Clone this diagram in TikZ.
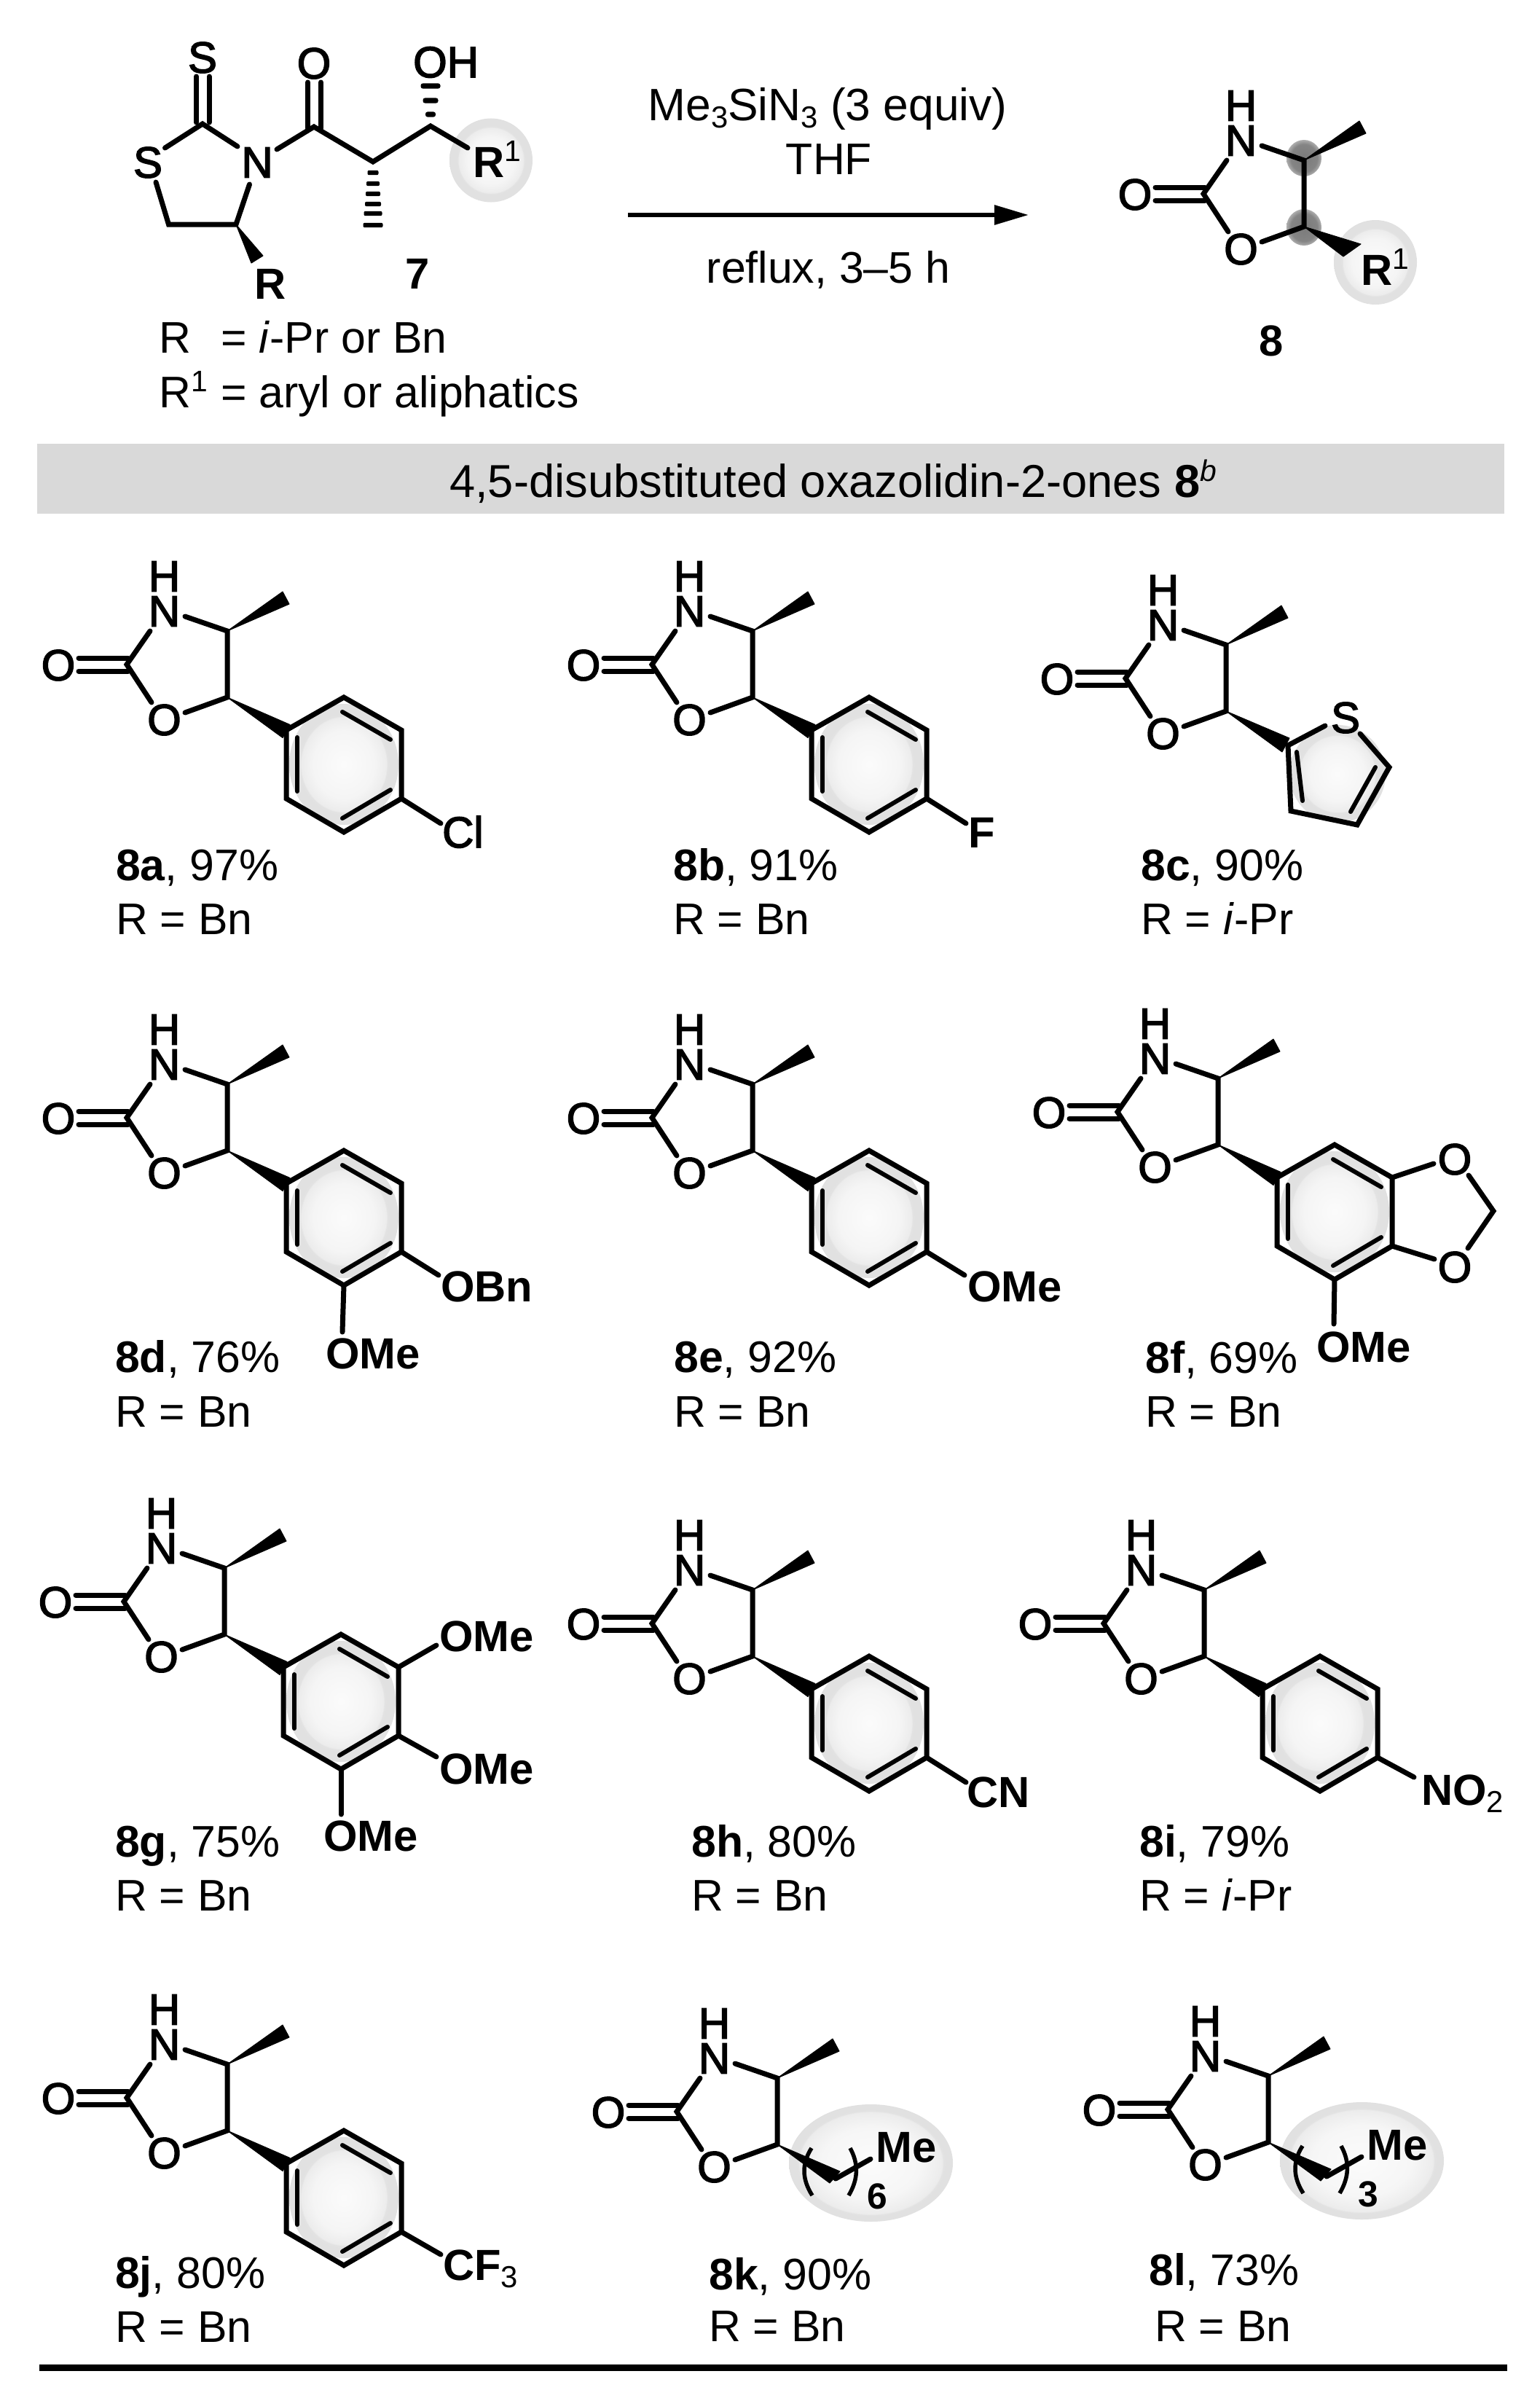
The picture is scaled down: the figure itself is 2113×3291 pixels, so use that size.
\documentclass[tikz,border=0pt]{standalone}
\usepackage{fontspec}
\setmainfont{Liberation Sans}
\usetikzlibrary{arrows.meta,shapes.geometric}
\pgfdeclareradialshading{halo}{\pgfpointorigin}{gray(0bp)=(.985);gray(14bp)=(.96);gray(19.5bp)=(.925);gray(20bp)=(.885);gray(25bp)=(.88);gray(50bp)=(.88)}
\pgfdeclareradialshading{halowide}{\pgfpointorigin}{gray(0bp)=(.985);gray(15bp)=(.965);gray(21.7bp)=(.925);gray(22.2bp)=(.885);gray(25bp)=(.88);gray(50bp)=(.88)}
\pgfdeclareradialshading{darkdot}{\pgfpointorigin}{gray(0bp)=(.48);gray(19bp)=(.52);gray(25bp)=(.68);gray(50bp)=(.68)}
\newcommand{\fs}{\fontsize{61}{72}\selectfont}
\newcommand{\emboOn}{\special{pdf:code q 2 Tr 1.6 w}}
\newcommand{\emboOff}{\special{pdf:code Q}}
\tikzset{
  x=1bp,y=-1bp,
  bond/.style={line width=7bp,line cap=round,line join=miter,draw=black},
  wedgeb/.style={fill=black,draw=black,line width=1bp,line join=round},
  txt/.style={anchor=base west,inner sep=0pt,font=\fs},
  ctxt/.style={anchor=base,inner sep=0pt,font=\fs},
  atom/.style={anchor=center,inner sep=0pt,font=\fontsize{60}{70}\selectfont,execute at begin node=\emboOn,execute at end node=\emboOff},
  atomw/.style={anchor=base west,inner sep=0pt,font=\fontsize{60}{70}\selectfont,execute at begin node=\emboOn,execute at end node=\emboOff},
  heavy/.style={anchor=base west,inner sep=0pt,font=\fontsize{60}{70}\selectfont\bfseries},
  halonode/.style={ellipse,inner sep=0pt,shading=halo,draw=none},
  halowidenode/.style={ellipse,inner sep=0pt,shading=halowide,draw=none},
  dotnode/.style={ellipse,inner sep=0pt,shading=darkdot,draw=none,minimum width=48bp,minimum height=50bp},
}
\newcommand{\subs}[1]{\raisebox{-10bp}{\fontsize{42}{42}\selectfont #1}}
\newcommand{\sups}[1]{\raisebox{22bp}{\fontsize{41}{41}\selectfont\mdseries #1}}
% oxazolidinone scaffold: suffix, dx, dy
\newcommand{\oxa}[3]{%
\begin{scope}[shift={(#2,#3)}]
  \coordinate (c4#1) at (312,866);
  \coordinate (c5#1) at (312,957);
  \coordinate (c2#1) at (174,912);
  \node[atom] (n#1) at (225.5,839) {N};
  \node[atom] (h#1) at (225.5,791) {H};
  \node[atom] (o#1) at (225.5,988) {O};
  \node[atom] (oc#1) at (80,913) {O};
  \coordinate (nc2#1) at (206,866);
  \coordinate (nc4#1) at (254,846);
  \coordinate (oc5#1) at (254,978);
  \coordinate (oc2#1) at (208,964);
  \coordinate (db1#1) at (108,903);
  \coordinate (db2#1) at (108,921);
  \coordinate (db3#1) at (176,903);
  \coordinate (db4#1) at (176,921);
  \coordinate (m1#1) at (388,812);
  \coordinate (m2#1) at (397,829);
  \draw[bond] (nc2#1) -- (c2#1) -- (oc2#1);
  \draw[bond] (nc4#1) -- (c4#1) -- (c5#1) -- (oc5#1);
  \draw[bond] (db1#1) -- (db3#1);
  \draw[bond] (db2#1) -- (db4#1);
  \path[wedgeb] (c4#1) -- (m1#1) -- (m2#1) -- cycle;
\end{scope}}
% halo and benzene ring
\newcommand{\aryl}[3]{%
\begin{scope}[shift={(#2,#3)}]
  \node[halonode,minimum width=150bp,minimum height=166bp] (hl#1) at (472,1049) {};
  \coordinate (a1#1) at (393,1002);
  \coordinate (a2#1) at (472,957);
  \coordinate (a3#1) at (551,1002);
  \coordinate (a4#1) at (551,1096);
  \coordinate (a5#1) at (472,1142);
  \coordinate (a6#1) at (393,1096);
  \coordinate (i1#1) at (408,1012);
  \coordinate (i2#1) at (408,1086);
  \coordinate (i3#1) at (470,977);
  \coordinate (i4#1) at (536,1015);
  \coordinate (i5#1) at (536,1084);
  \coordinate (i6#1) at (470,1123);
  \coordinate (w1#1) at (398,994.5);
  \coordinate (w2#1) at (388,1012.5);
  \path[wedgeb] (c5#1) -- (w1#1) -- (w2#1) -- cycle;
  \draw[bond,line cap=butt] (a1#1) -- (a2#1) -- (a3#1) -- (a4#1) -- (a5#1) -- (a6#1) -- cycle;
  \draw[bond,line width=6bp] (i1#1) -- (i2#1);
  \draw[bond,line width=6bp] (i3#1) -- (i4#1);
  \draw[bond,line width=6bp] (i5#1) -- (i6#1);
\end{scope}}
% aliphatic chain with bracket and halo
\newcommand{\chain}[4]{%
\begin{scope}[shift={(#2,#3)}]
  \node[halowidenode,minimum width=225bp,minimum height=161bp] (hl#1) at (440.5,982.5) {};
  \coordinate (t1#1) at (384,1010);
  \coordinate (t2#1) at (398,994);
  \coordinate (j#1) at (392,1004);
  \coordinate (e#1) at (440,977);
  \path[wedgeb] (c5#1) -- (t2#1) -- (t1#1) -- cycle;
  \draw[bond] (j#1) -- (e#1);
  \coordinate (bl1#1) at (359,962);
  \coordinate (bl2#1) at (360,1027);
  \coordinate (br1#1) at (412,962);
  \coordinate (br2#1) at (410,1027);
  \draw[line width=5.5bp] (bl1#1) .. controls (345,984) and (346,1005) .. (bl2#1);
  \draw[line width=5.5bp] (br1#1) .. controls (424,984) and (423,1005) .. (br2#1);
  \node[heavy] (me#1) at (447,981) {Me};
  \node[inner sep=0pt,font=\fontsize{50}{50}\selectfont\bfseries] (ct#1) at (449,1028) {#4};
\end{scope}}
% caption of a compound: name, x, y1, y2, bold part, percent, R text
\newcommand{\yield}[7]{%
  \node[txt] (yl#1) at (#2,#3) {\textbf{#5}, #6};
  \node[txt] (rl#1) at (#2,#4) {R = #7};}
\newcommand{\ipr}{\textit{i}-Pr}
\begin{document}
\begin{tikzpicture}
\useasboundingbox (0,0) rectangle (2113,3291);
\fill[white] (0,0) rectangle (2113,3291);

% ---- reaction scheme, substrate 7
\node[halonode,minimum width=114bp,minimum height=115bp] (hl7) at (674,220) {};
\node[atom] (s7) at (278,79) {S};
\node[atom] (o7) at (431,87) {O};
\node[atom] (rs7) at (203,223) {S};
\node[atom] (rn7) at (353,223) {N};
\node[atomw] (oh7) at (567,106) {OH};
\coordinate (cs7) at (278,170);
\coordinate (ch2) at (231.5,308);
\coordinate (c47) at (324,308);
\coordinate (cam) at (431,174);
\coordinate (cme) at (512,222);
\coordinate (coh) at (591,173);
\coordinate (sd1) at (269.5,105);
\coordinate (sd2) at (287,105);
\coordinate (sd3) at (269.5,168);
\coordinate (sd4) at (287,168);
\coordinate (od1) at (422.5,113);
\coordinate (od2) at (440.5,113);
\coordinate (od3) at (422.5,176);
\coordinate (od4) at (440.5,176);
\coordinate (csa) at (226.5,203);
\coordinate (csb) at (326,201);
\coordinate (sb) at (214,250);
\coordinate (nb) at (342.5,253);
\coordinate (nc) at (380,205);
\coordinate (rr) at (642,203);
\coordinate (tp1) at (345,361);
\coordinate (tp2) at (361,351);
\draw[bond] (sd1) -- (sd3);
\draw[bond] (sd2) -- (sd4);
\draw[bond] (od1) -- (od3);
\draw[bond] (od2) -- (od4);
\draw[bond] (csa) -- (cs7) -- (csb);
\draw[bond] (sb) -- (ch2) -- (c47) -- (nb);
\draw[bond] (nc) -- (cam) -- (cme) -- (coh) -- (rr);
\path[wedgeb] (c47) -- (tp1) -- (tp2) -- cycle;
\foreach \yy/\ww in {237/15,252/18,266/20,280/22,293/25,309/27}
  \fill[rounded corners=2bp] (512-\ww/2,\yy-3.2) rectangle (512+\ww/2,\yy+3.2);
\foreach \yy/\ww in {157/14,138/21,118/27}
  \fill[rounded corners=3bp] (591-\ww/2,\yy-3.6) rectangle (591+\ww/2,\yy+3.6);
\node[heavy] (r7) at (649,243) {R\sups{1}};
\node[heavy] (rb7) at (349,410) {R};
\node[txt,font=\fontsize{60}{70}\selectfont\bfseries] (lab7) at (556,396) {7};
\node[txt] (t1) at (218,484) {\makebox[85bp][l]{R}= \textit{i}-Pr or Bn};
\node[txt] (t2) at (218,559) {\makebox[85bp][l]{R\sups{1}}= aryl or aliphatics};

% ---- conditions
\node[ctxt,font=\fontsize{62.5}{72}\selectfont] (c1) at (1136,165) {Me\subs{3}SiN\subs{3} (3 equiv)};
\node[ctxt] (c2) at (1138,239) {THF};
\node[ctxt] (c3) at (1137,388) {reflux, 3--5 h};
\coordinate (ar1) at (862,295);
\coordinate (ar2) at (1412,295);
\draw[line width=6bp,-{Triangle[length=47bp,width=26bp]}] (ar1) -- (ar2);

% ---- product 8
\node[halonode,minimum width=114bp,minimum height=116bp] (hl8) at (1888,360) {};
\node[dotnode] (d1) at (1790,217) {};
\node[dotnode] (d2) at (1790,312) {};
\oxa{p}{1478}{-646}
\coordinate (w8a) at (1868,335);
\coordinate (w8b) at (1844,352);
\path[wedgeb] (c5p) -- (w8a) -- (w8b) -- cycle;
\node[heavy] (r8) at (1868,391) {R\sups{1}};
\node[ctxt,font=\fontsize{60}{70}\selectfont\bfseries] (lab8) at (1745,488) {8};

% ---- band
\fill[black!15] (51,609) rectangle (2065,705);
\node[txt,font=\fontsize{63.5}{72}\selectfont] (band) at (617,682) {4,5-disubstituted oxazolidin-2-ones \textbf{8}\sups{\textit{b}}};

% ---- 8a
\oxa{a}{0}{0}\aryl{a}{0}{0}
\coordinate (ea) at (605,1130);
\draw[bond] (a4a) -- (ea);
\node[atomw] (cla) at (607,1163) {Cl};
\yield{a}{159}{1208}{1282}{8a}{97\%}{Bn}

% ---- 8b
\oxa{b}{721}{0}\aryl{b}{721}{0}
\coordinate (eb) at (1326,1130);
\draw[bond] (a4b) -- (eb);
\node[heavy] (fb) at (1329,1163) {F};
\yield{b}{924}{1208}{1282}{8b}{91\%}{Bn}

% ---- 8c thiophene
\node[halonode,minimum width=132bp,minimum height=134bp] (hlc) at (1836,1062) {};
\oxa{c}{1371}{19}
\node[atom] (sc) at (1847,985) {S};
\coordinate (t1c) at (1768,1023);
\coordinate (t2c) at (1772,1113);
\coordinate (t3c) at (1863,1132);
\coordinate (t4c) at (1907,1053);
\coordinate (sac) at (1819,996);
\coordinate (sbc) at (1867,1007);
\coordinate (wac) at (1770,1013);
\coordinate (wbc) at (1760,1032);
\coordinate (i1c) at (1780,1032);
\coordinate (i2c) at (1788,1099);
\coordinate (i3c) at (1888,1053);
\coordinate (i4c) at (1854,1114);
\path[wedgeb] (c5c) -- (wac) -- (wbc) -- cycle;
\draw[bond] (sac) -- (t1c) -- (t2c) -- (t3c) -- (t4c) -- (sbc);
\draw[bond,line width=6bp] (i1c) -- (i2c);
\draw[bond,line width=6bp] (i3c) -- (i4c);
\yield{c}{1566}{1208}{1282}{8c}{90\%}{\ipr}

% ---- 8d
\oxa{d}{0}{622}\aryl{d}{0}{622}
\coordinate (e1d) at (602,1750);
\coordinate (e2d) at (470,1828);
\draw[bond] (a4d) -- (e1d);
\draw[bond] (a5d) -- (e2d);
\node[heavy] (obd) at (605,1786) {OBn};
\node[heavy] (omd) at (447,1878) {OMe};
\yield{d}{158}{1883}{1958}{8d}{76\%}{Bn}

% ---- 8e
\oxa{e}{721}{622}\aryl{e}{721}{622}
\coordinate (ee) at (1324,1750);
\draw[bond] (a4e) -- (ee);
\node[heavy] (ome) at (1328,1786) {OMe};
\yield{e}{925}{1883}{1958}{8e}{92\%}{Bn}

% ---- 8f
\oxa{f}{1360}{614}\aryl{f}{1360}{614}
\node[atom] (o1f) at (1997,1591) {O};
\node[atom] (o2f) at (1997,1739) {O};
\coordinate (b1f) at (1968,1597);
\coordinate (b2f) at (1969,1728);
\coordinate (chf) at (2050,1662);
\coordinate (b3f) at (2016,1613);
\coordinate (b4f) at (2015,1713);
\coordinate (e3f) at (1831,1817);
\draw[bond] (a3f) -- (b1f);
\draw[bond] (a4f) -- (b2f);
\draw[bond] (b3f) -- (chf) -- (b4f);
\draw[bond] (a5f) -- (e3f);
\node[heavy] (omf) at (1807,1869) {OMe};
\yield{f}{1572}{1884}{1958}{8f}{69\%}{Bn}

% ---- 8g
\oxa{g}{-4}{1286}\aryl{g}{-4}{1286}
\coordinate (e1g) at (599,2258);
\coordinate (e2g) at (599,2411);
\coordinate (e3g) at (468,2490);
\draw[bond] (a3g) -- (e1g);
\draw[bond] (a4g) -- (e2g);
\draw[bond] (a5g) -- (e3g);
\node[heavy] (om1g) at (603,2266) {OMe};
\node[heavy] (om2g) at (603,2448) {OMe};
\node[heavy] (om3g) at (444,2540) {OMe};
\yield{g}{158}{2548}{2622}{8g}{75\%}{Bn}

% ---- 8h
\oxa{h}{721}{1316}\aryl{h}{721}{1316}
\coordinate (eh) at (1326,2446);
\draw[bond] (a4h) -- (eh);
\node[heavy] (cnh) at (1327,2480) {CN};
\yield{h}{949}{2548}{2622}{8h}{80\%}{Bn}

% ---- 8i
\oxa{i}{1341}{1316}\aryl{i}{1340}{1316}
\coordinate (ei) at (1941,2439);
\draw[bond] (a4i) -- (ei);
\node[heavy] (noi) at (1951,2477) {NO\subs{\mdseries 2}};
\yield{i}{1564}{2548}{2622}{8i}{79\%}{\ipr}

% ---- 8j
\oxa{j}{0}{1967}\aryl{j}{0}{1967}
\coordinate (ej) at (605,3094);
\draw[bond] (a4j) -- (ej);
\node[heavy] (cfj) at (608,3129) {CF\subs{\mdseries 3}};
\yield{j}{158}{3140}{3214}{8j}{80\%}{Bn}

% ---- 8k
\oxa{k}{755}{1986}
\chain{k}{755}{1986}{6}
\yield{k}{973}{3142}{3213}{8k}{90\%}{Bn}

% ---- 8l
\oxa{l}{1429}{1983}
\chain{l}{1429}{1983}{3}
\node[txt] (yll) at (1577,3136) {\textbf{8l}, 73\%};
\node[txt] (rll) at (1585,3213) {R = Bn};

% ---- bottom rule
\fill (54,3245) rectangle (2069,3254);
\end{tikzpicture}
\end{document}
